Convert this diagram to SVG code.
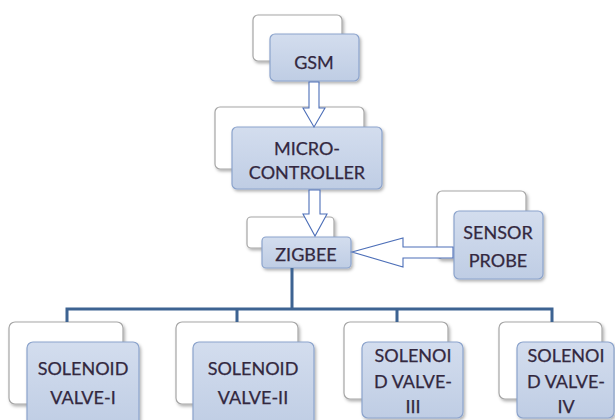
<svg xmlns="http://www.w3.org/2000/svg" width="615" height="420" viewBox="0 0 615 420">
  <style>
    .back { fill: #ffffff; stroke: #a6a6a6; stroke-width: 1.2; filter: url(#shadow); }
    .front { fill: url(#blueFill); stroke: #8ba3cc; stroke-width: 1.2; filter: url(#shadow); }
    .label { font-family: Lato, "Open Sans", "Liberation Sans", sans-serif; font-size: 18px; fill: #33283f; text-anchor: middle; stroke: #33283f; stroke-width: 0.25; }
    .bus { fill: none; stroke: #3d6392; stroke-width: 3; }
    .arrow { fill: #ffffff; stroke: #4d6fb8; stroke-width: 1.1; stroke-linejoin: miter; }
  </style>
  <defs>
    <linearGradient id="blueFill" x1="0" y1="0" x2="0" y2="1">
      <stop offset="0" stop-color="#d3ddee"/>
      <stop offset="1" stop-color="#bfcde4"/>
    </linearGradient>
    <filter id="shadow" x="-10%" y="-10%" width="125%" height="130%">
      <feDropShadow dx="1.5" dy="2" stdDeviation="1.5" flood-color="#000000" flood-opacity="0.3"/>
    </filter>
  </defs>

  <rect width="615" height="420" fill="#ffffff"/>

  <g id="gsm">
    <rect class="back" x="253" y="15" width="89" height="46" rx="5"/>
    <rect class="front" x="270" y="34" width="89" height="47" rx="5"/>
    <text class="label" x="314" y="69">GSM</text>
  </g>

  <g id="microcontroller">
    <rect class="back" x="215" y="107" width="149" height="62" rx="5"/>
    <rect class="front" x="232" y="127" width="150" height="62" rx="5"/>
    <text class="label" x="307" y="155">MICRO-</text>
    <text class="label" x="307" y="179">CONTROLLER</text>
  </g>

  <g id="zigbee">
    <rect class="back" x="247" y="217" width="87" height="31" rx="4"/>
    <rect class="front" x="262" y="237" width="89" height="31" rx="4"/>
    <text class="label" x="306" y="261">ZIGBEE</text>
  </g>

  <g id="sensor-probe">
    <rect class="back" x="437" y="191" width="89" height="68" rx="5"/>
    <rect class="front" x="454" y="211" width="89" height="68" rx="5"/>
    <text class="label" x="498" y="239">SENSOR</text>
    <text class="label" x="498" y="267">PROBE</text>
  </g>

  <g id="valve-1">
    <rect class="back" x="9" y="322" width="114" height="82" rx="6"/>
    <rect class="front" x="27" y="342" width="112" height="86" rx="6"/>
    <text class="label" x="83" y="375">SOLENOID</text>
    <text class="label" x="83" y="404">VALVE-I</text>
  </g>

  <g id="valve-2">
    <rect class="back" x="176" y="322" width="122" height="82" rx="6"/>
    <rect class="front" x="193" y="342" width="121" height="86" rx="6"/>
    <text class="label" x="253" y="375">SOLENOID</text>
    <text class="label" x="253" y="404">VALVE-II</text>
  </g>

  <g id="valve-3">
    <rect class="back" x="344" y="322" width="104" height="77" rx="6"/>
    <rect class="front" x="362" y="342" width="101" height="76" rx="6"/>
    <text class="label" x="413" y="362">SOLENOI</text>
    <text class="label" x="413" y="388">D VALVE-</text>
    <text class="label" x="413" y="413">III</text>
  </g>

  <g id="valve-4">
    <rect class="back" x="499" y="322" width="103" height="77" rx="6"/>
    <rect class="front" x="517" y="342" width="97" height="76" rx="6"/>
    <text class="label" x="566" y="362">SOLENOI</text>
    <text class="label" x="566" y="388">D VALVE-</text>
    <text class="label" x="566" y="413">IV</text>
  </g>

  <!-- connectors, drawn over the back panels -->
  <g id="connectors">
    <!-- GSM to micro-controller -->
    <path class="arrow" d="M309,82 H319 V108 H325 L314,127 L303,108 H309 Z"/>
    <!-- micro-controller to ZigBee -->
    <path class="arrow" d="M309,190 H320 V214 H327 L315,236 L303,214 H309 Z"/>
    <!-- sensor probe to ZigBee -->
    <path class="arrow" d="M453,247 V258 H403 V267 L352,252 L403,238 V247 Z"/>
    <!-- ZigBee to solenoid valves -->
    <path class="bus" d="M292,268 V309 M67,322 V309 H552 V322 M237,309 V322 M397,309 V322"/>
  </g>
</svg>
